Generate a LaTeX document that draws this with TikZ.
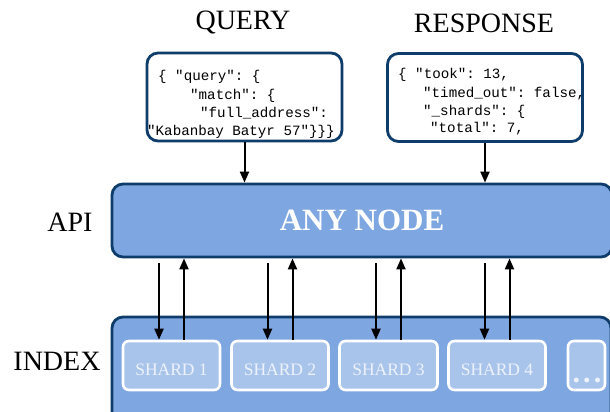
\documentclass[tikz,border=0pt]{standalone}
\usepackage{fontspec}
\setmainfont{Liberation Serif}
\setmonofont{Liberation Mono}
\usetikzlibrary{arrows.meta}
\definecolor{navy}{HTML}{0F3D6B}
\definecolor{apiblue}{HTML}{7EA6E0}
\definecolor{shardblue}{HTML}{A9C4EB}
\definecolor{shardtext}{HTML}{EDF2FA}
\tikzset{
  layerbox/.style={draw=navy, line width=2.8pt, fill=apiblue, rounded corners=11pt, inner sep=0pt},
  jsonbox/.style={draw=navy, line width=2.8pt, fill=white, rounded corners=11pt, inner sep=0pt,
                  minimum width=195pt, minimum height=88pt},
  jsonline/.style={anchor=base west, inner sep=0pt, font=\ttfamily\fontsize{14.2}{17}\selectfont},
  shardbox/.style={draw=white, line width=2.6pt, fill=shardblue, rounded corners=6pt, inner sep=0pt,
                   minimum height=49pt},
  shardlabel/.style={inner sep=0pt, text=shardtext, font=\fontsize{17.5}{20}\selectfont},
  heading/.style={inner sep=0pt, font=\fontsize{28}{32}\selectfont},
  flow/.style={line width=2pt, -{Triangle[length=11pt,width=9pt]}},
}
\begin{document}
\begin{tikzpicture}[x=1pt,y=-1pt]
\clip (0,0) rectangle (610,412);
\fill[white] (0,0) rectangle (610,412);

% headings
\node[heading] (hq) at (243,23) {QUERY};
\node[heading] (hr) at (484,23) {RESPONSE};
\node[heading] (hapi) at (70,222) {API};
\node[heading] (hidx) at (57,361) {INDEX};

% request / response bodies
\node[jsonbox] (qbox) at (244.5,97) {};
\node[jsonline] (q1) at (158,80) {\{ "query": \{};
\node[jsonline] (q2) at (190,99) {"match": \{};
\node[jsonline] (q3) at (200,117) {"full\_address":};
\node[jsonline] (q4) at (147,135) {"Kabanbay Batyr 57"\}\}\}};

\node[jsonbox] (rbox) at (485,97.5) {};
\node[jsonline] (r1) at (398,78) {\{ "took": 13,};
\node[jsonline] (r2) at (423,97) {"timed\_out": false,};
\node[jsonline] (r3) at (423,115) {"\_shards": \{};
\node[jsonline] (r4) at (430,132) {"total": 7,};

% coordinating node and index layer
\node[layerbox, minimum width=500pt, minimum height=73pt] (api) at (362,220.5)
  {\textcolor{white}{\bfseries\fontsize{31}{34}\selectfont ANY NODE}};
\node[layerbox, minimum width=499pt, minimum height=113pt] (idx) at (361.5,373.5) {};

% shards
\node[shardbox, minimum width=97pt] (s1) at (171.5,365.5) {};
\node[shardbox, minimum width=97pt] (s2) at (280,365.5) {};
\node[shardbox, minimum width=98pt] (s3) at (388.5,365.5) {};
\node[shardbox, minimum width=97pt] (s4) at (497,365.5) {};
\node[shardbox, minimum width=37pt] (s5) at (586.5,365.5) {};
\foreach \s/\t in {s1/SHARD 1,s2/SHARD 2,s3/SHARD 3,s4/SHARD 4}
  \node[shardlabel] (\s label) at ([yshift=-4.5pt]\s.center) {\t};
\node[shardlabel, font=\bfseries\fontsize{30}{32}\selectfont, anchor=base]
  (dots) at (587,382) {.\hspace{3.2pt}.\hspace{3.2pt}.};

% query goes in, response comes out
\draw[flow] (qbox.south) -- (api.north -| qbox.south);
\draw[flow] (rbox.south) -- (api.north -| rbox.south);

% scatter to shards and gather results
\foreach \s in {s1,s2,s3,s4} {
  \draw[flow, shorten <=5pt] ([xshift=-12.5pt]api.south -| \s.north) -- ([xshift=-12.5pt]\s.north);
  \draw[flow] ([xshift=12.5pt]\s.north) -- ([xshift=12.5pt]api.south -| \s.north);
}
\end{tikzpicture}
\end{document}
